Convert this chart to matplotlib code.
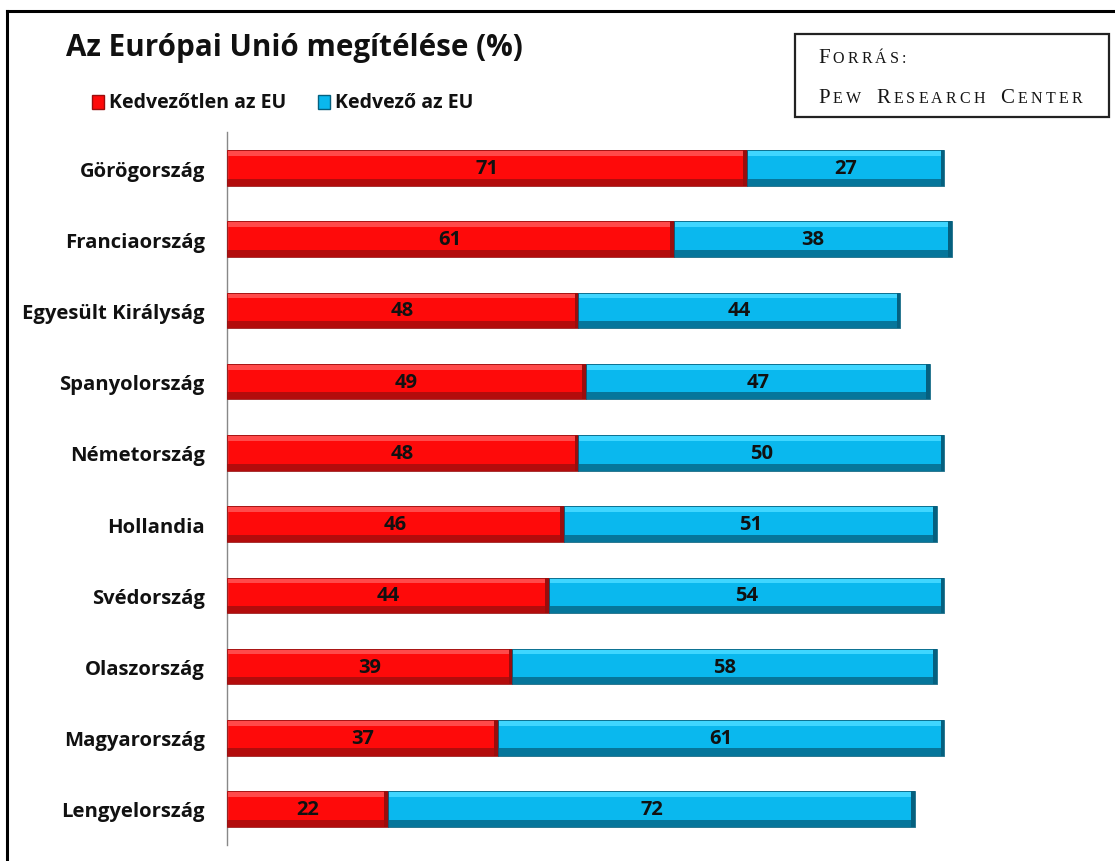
import matplotlib
matplotlib.use("Agg")
import matplotlib.pyplot as plt
from matplotlib.patches import Rectangle
import numpy as np

countries = ["Görögország", "Franciaország", "Egyesült Királyság", "Spanyolország",
             "Németország", "Hollandia", "Svédország", "Olaszország",
             "Magyarország", "Lengyelország"]
unfavorable = [71, 61, 48, 49, 48, 46, 44, 39, 37, 22]
favorable = [27, 38, 44, 47, 50, 51, 54, 58, 61, 72]
series_names = ["Kedvezőtlen az EU", "Kedvező az EU"]
title = "Az Európai Unió megítélése (%)"
source_lines = ["Forrás:", "Pew Research Center"]

RED, RED_DARK, RED_LIGHT = "#fe0a0a", "#9a0d0d", "#ff4a4a"
BLUE, BLUE_DARK, BLUE_LIGHT = "#0ab8ee", "#05607f", "#3fd6ff"

W, H = 1115, 862
fig = plt.figure(figsize=(W / 100, H / 100), dpi=100)
fig.patch.set_facecolor("white")

ax_left, ax_top, ax_bottom = 227, 133.4, 845.6
ax_right = 227 + 110 * 7.32
ax = fig.add_axes([ax_left / W, 1 - ax_bottom / H, (ax_right - ax_left) / W,
                   (ax_bottom - ax_top) / H])
ax.set_xlim(0, 110)
n = len(countries)
ax.set_ylim(n - 0.5, -0.5)
y = np.arange(n)
bh = 0.5

fnt = "Open Sans"

for vals, lefts, c, cd, cl in [(unfavorable, np.zeros(n), RED, RED_DARK, RED_LIGHT),
                               (favorable, np.array(unfavorable, float), BLUE, BLUE_DARK, BLUE_LIGHT)]:
    vals = np.array(vals, float)
    ax.barh(y, vals, left=lefts, height=bh, color=c, edgecolor="none", zorder=2)
    ax.barh(y - bh / 2 + 0.04, vals, left=lefts, height=0.08, color=cl, edgecolor="none", zorder=3)
    ax.barh(y + bh / 2 - 0.05, vals, left=lefts, height=0.10, color=cd, edgecolor="none", zorder=3, alpha=0.75)
    ax.barh(y, np.full(n, 0.5), left=lefts + vals - 0.5, height=bh, color=cd, edgecolor="none", zorder=4)
    ax.barh(y, vals, left=lefts, height=bh, color="none", edgecolor=cd, linewidth=0.6, zorder=5)
    for yi, v, l in zip(y, vals, lefts):
        ax.text(l + v / 2, yi, f"{int(v)}", ha="center", va="center", fontsize=14.5,
                fontweight="bold", family=fnt, color="#111111", zorder=6)

ax.set_yticks(y)
ax.set_yticklabels(countries, fontsize=14.6, fontweight="bold", family=fnt, color="#111111")
ax.tick_params(axis="y", length=0, pad=16)
ax.set_xticks([])
for s in ["top", "right", "bottom"]:
    ax.spines[s].set_visible(False)
ax.spines["left"].set_color("#888888")
ax.spines["left"].set_linewidth(1.0)

fig.text(66 / W, 1 - 48 / H, title, ha="left", va="center", fontsize=21.3,
         fontweight="bold", family=fnt, color="#111111")

def legend_item(x, label, c, cd):
    fig.patches.append(Rectangle((x / W, 1 - 110 / H), 12 / W, 14 / H, transform=fig.transFigure,
                                 facecolor=c, edgecolor=cd, linewidth=1.0))
    fig.text((x + 17) / W, 1 - 103 / H, label, ha="left", va="center", fontsize=14,
             fontweight="bold", family=fnt, color="#111111")

legend_item(92, series_names[0], RED, RED_DARK)
legend_item(318, series_names[1], BLUE, BLUE_DARK)

fig.add_artist(plt.Line2D([7 / W, 1.0], [1 - 12 / H, 1 - 12 / H], transform=fig.transFigure,
                          color="black", linewidth=2.2))
fig.add_artist(plt.Line2D([7 / W, 7 / W], [1 - 12 / H, 0], transform=fig.transFigure,
                          color="black", linewidth=2.2))

fig.patches.append(Rectangle((795 / W, 1 - 118 / H), (1109 - 795) / W, (118 - 35) / H,
                             transform=fig.transFigure, facecolor="white", edgecolor="#222222",
                             linewidth=1.6, zorder=1))

renderer = fig.canvas.get_renderer()

def small_caps_line(x, baseline, text, big=15, small=11.5, spacing=3.2, space_w=12):
    cur = x
    for ch in text:
        if ch == " ":
            cur += space_w
            continue
        size = big if ch.isupper() else small
        t = fig.text(cur / W, 1 - baseline / H, ch.upper(), ha="left", va="baseline",
                     fontsize=size, family="Liberation Serif", color="#151515", zorder=3)
        bb = t.get_window_extent(renderer)
        cur += bb.width + spacing

small_caps_line(818, 63, source_lines[0])
small_caps_line(818, 103, source_lines[1])

fig.savefig("out.png", dpi=100, facecolor="white")
